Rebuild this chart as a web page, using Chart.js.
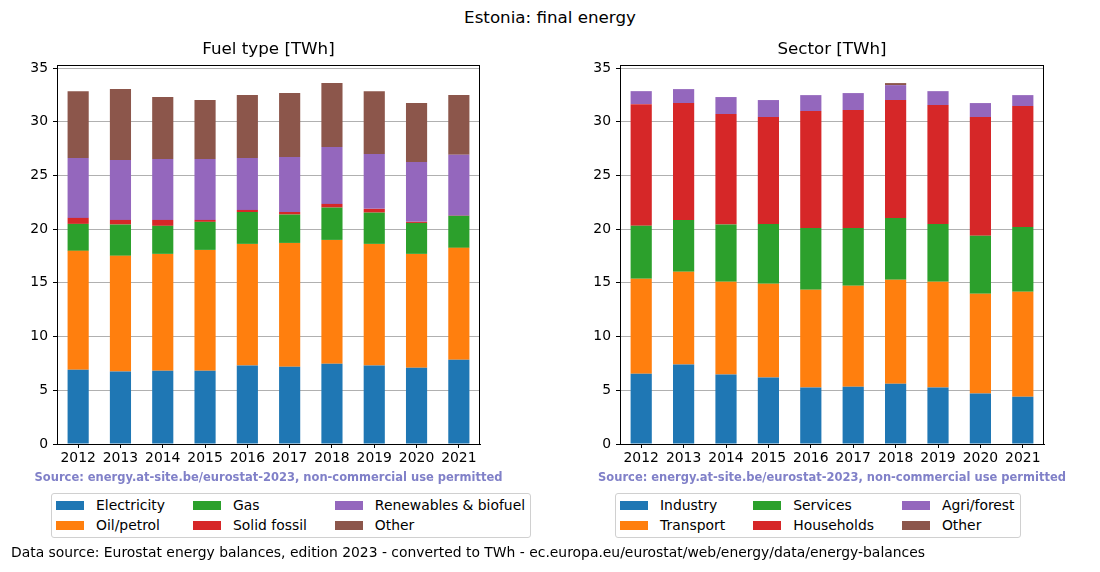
<!DOCTYPE html>
<html>
<head>
<meta charset="utf-8">
<script src="https://cdn.jsdelivr.net/npm/chart.js@4/dist/chart.umd.min.js"></script>
<style>
  body { margin: 0; width: 1100px; height: 572px; position: relative; background: #fff;
         font-family: 'DejaVu Sans', sans-serif; color: #000; overflow: hidden; }
  canvas { position: absolute; top: 0; }
  #mainTitle { position: absolute; top: 7px; left: 0; width: 1100px; text-align: center; font-size: 16.7px; }
  .legend { position: absolute; top: 493px; border: 1px solid #d0d0d0; border-radius: 3px;
            padding: 1px 5px 2px 4px; display: inline-grid; grid-template-rows: 20px 20px;
            grid-auto-flow: column; column-gap: 28px; font-size: 13.9px; background: #fff; }
  .legend .item { display: flex; align-items: center; white-space: nowrap; }
  .legend .patch { width: 28px; height: 9px; margin-right: 12px; }
  #footer { position: absolute; left: 11px; top: 544px; font-size: 13.9px; }
</style>
</head>
<body>
<div id="mainTitle">Estonia: final energy</div>
<canvas id="fuel" width="550" height="572" style="left:0"></canvas>
<canvas id="sector" width="550" height="572" style="left:550px"></canvas>
<div id="fuelLegend" class="legend" style="left:51px"></div>
<div id="sectorLegend" class="legend" style="left:615px"></div>
<div id="footer">Data source: Eurostat energy balances, edition 2023 - converted to TWh - ec.europa.eu/eurostat/web/energy/data/energy-balances</div>

<script>
const years = ['2012', '2013', '2014', '2015', '2016', '2017', '2018', '2019', '2020', '2021'];
const yTicks = [0, 5, 10, 15, 20, 25, 30, 35];

// Fuel type [TWh]
const electricity = [6.92, 6.74, 6.83, 6.83, 7.30, 7.20, 7.48, 7.30, 7.11, 7.85];
const oilPetrol   = [11.06, 10.78, 10.87, 11.24, 11.33, 11.52, 11.52, 11.33, 10.59, 10.41];
const gas         = [2.51, 2.91, 2.61, 2.61, 2.97, 2.64, 3.01, 2.91, 2.88, 2.98];
const solidFossil = [0.56, 0.43, 0.55, 0.18, 0.19, 0.24, 0.34, 0.35, 0.10, 0.02];
const renewables  = [5.58, 5.58, 5.67, 5.67, 4.84, 5.12, 5.30, 5.11, 5.58, 5.66];
const fuelOther   = [6.22, 6.60, 5.77, 5.49, 5.85, 5.95, 5.95, 5.85, 5.49, 5.58];

// Sector [TWh]
const industry    = [6.55, 7.39, 6.46, 6.18, 5.25, 5.34, 5.62, 5.25, 4.69, 4.41];
const transport   = [8.83, 8.64, 8.64, 8.73, 9.11, 9.39, 9.67, 9.85, 9.30, 9.76];
const services    = [4.93, 4.83, 5.33, 5.58, 5.76, 5.39, 5.76, 5.39, 5.39, 6.04];
const households  = [11.33, 10.88, 10.29, 9.95, 10.87, 10.97, 10.97, 11.06, 11.06, 11.25];
const agriForest  = [1.21, 1.30, 1.58, 1.58, 1.49, 1.58, 1.39, 1.30, 1.30, 1.02];
const sectorOther = [0, 0, 0, 0, 0, 0, 0.19, 0, 0, 0];

const colors = ['#1f77b4', '#ff7f0e', '#2ca02c', '#d62728', '#9467bd', '#8c564b'];
const sourceText = 'Source: energy.at-site.be/eurostat-2023, non-commercial use permitted';

const fuelSeries = [
  ['Electricity', electricity], ['Oil/petrol', oilPetrol], ['Gas', gas],
  ['Solid fossil', solidFossil], ['Renewables & biofuel', renewables], ['Other', fuelOther]
];
const sectorSeries = [
  ['Industry', industry], ['Transport', transport], ['Services', services],
  ['Households', households], ['Agri/forest', agriForest], ['Other', sectorOther]
];

Chart.defaults.font.family = "'DejaVu Sans', sans-serif";
Chart.defaults.color = '#000';

// black frame round the plot area, like matplotlib spines
const frame = {
  id: 'frame',
  afterDatasetsDraw(chart) {
    const a = chart.chartArea, c = chart.ctx;
    c.save();
    c.strokeStyle = '#000';
    c.lineWidth = 1;
    c.strokeRect(Math.round(a.left) + 0.5, Math.round(a.top) + 0.5,
                 Math.round(a.right - a.left) - 1, Math.round(a.bottom - a.top));
    c.restore();
  }
};

// source note under the x labels, not squeezed to the plot width
const sourceNote = {
  id: 'sourceNote',
  afterDraw(chart) {
    const a = chart.chartArea, c = chart.ctx;
    c.save();
    c.font = "bold 11.5px 'DejaVu Sans', sans-serif";
    c.fillStyle = '#8080c8';
    c.textAlign = 'center';
    c.textBaseline = 'middle';
    c.fillText(sourceText, (a.left + a.right) / 2, a.bottom + 34);
    c.restore();
  }
};

function makeChart(id, title, series, yWidth, padRight) {
  return new Chart(document.getElementById(id), {
    type: 'bar',
    data: {
      labels: years,
      datasets: series.map((s, i) => ({
        label: s[0], data: s[1], backgroundColor: colors[i], borderWidth: 0,
        categoryPercentage: 1.0, barPercentage: 0.5
      }))
    },
    options: {
      responsive: false,
      animation: false,
      layout: { padding: { top: 40, bottom: 106, left: 0, right: padRight } },
      plugins: {
        legend: { display: false },
        tooltip: { enabled: false },
        title: { display: true, text: title, fullSize: false, font: { size: 16.7, weight: 'normal' },
                 padding: { top: 0, bottom: 5 } }
      },
      scales: {
        x: {
          stacked: true,
          grid: { display: true, drawOnChartArea: false, offset: false, tickLength: 4, tickColor: '#000' },
          border: { color: '#000' },
          ticks: { font: { size: 13.9 }, padding: 2, maxRotation: 0 },
          afterFit(scale) { scale.height = 22; }
        },
        y: {
          stacked: true,
          min: 0, max: 35.28,
          afterBuildTicks(scale) { scale.ticks = yTicks.map(v => ({ value: v })); },
          grid: { color: '#b0b0b0', tickColor: '#000', tickLength: 4 },
          border: { color: '#000' },
          ticks: { font: { size: 13.9 }, padding: 5 },
          afterFit(scale) { scale.width = yWidth; }
        }
      }
    },
    plugins: [frame, sourceNote]
  });
}

function makeLegend(id, series) {
  const box = document.getElementById(id);
  series.forEach((s, i) => {
    const item = document.createElement('div');
    item.className = 'item';
    item.innerHTML = '<span class="patch" style="background:' + colors[i] + '"></span>';
    item.appendChild(document.createTextNode(s[0]));
    box.appendChild(item);
  });
}

makeChart('fuel', 'Fuel type [TWh]', fuelSeries, 57, 70);
makeChart('sector', 'Sector [TWh]', sectorSeries, 70, 56);
makeLegend('fuelLegend', fuelSeries);
makeLegend('sectorLegend', sectorSeries);
</script>
</body>
</html>
